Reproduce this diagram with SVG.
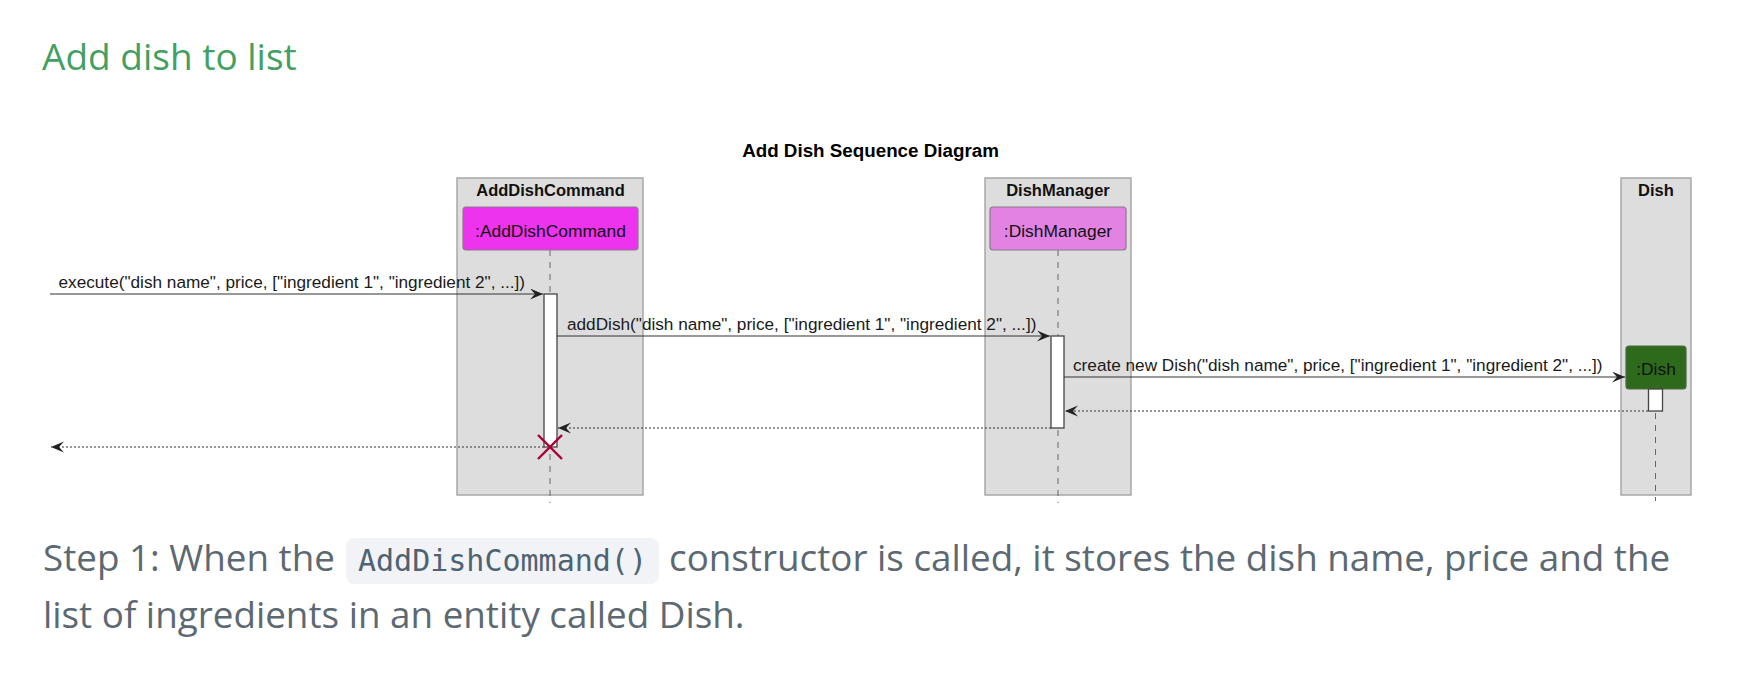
<svg xmlns="http://www.w3.org/2000/svg" width="1748" height="688" viewBox="0 0 1748 688">
<style>
.prose{font-family:"Open Sans","Noto Sans",sans-serif;fill:#5d6972;font-size:36.8px}
.h{font-family:"Open Sans","Noto Sans",sans-serif;fill:#43a062;font-size:37px}
.code{font-family:"DejaVu Sans Mono","Liberation Mono",monospace;fill:#4e6372;font-size:30px}
.d{font-family:"Liberation Sans",Arial,sans-serif}
.title{font-size:18.8px;font-weight:bold;fill:#000}
.box{fill:#dddddd;stroke:#a3a3a3;stroke-width:1.4}
.boxlbl{font-size:16.5px;font-weight:bold;fill:#111;text-anchor:middle}
.plbl{font-size:17.4px;fill:#111;text-anchor:middle}
.life{stroke:#666;stroke-width:1;stroke-dasharray:6,6;fill:none}
.act{fill:#fff;stroke:#444;stroke-width:1.3}
.msg{stroke:#333;stroke-width:1.2;fill:none;marker-end:url(#ah)}
.ret{stroke:#333;stroke-width:1.2;fill:none;stroke-dasharray:2,2;marker-end:url(#ah)}
.mlbl{font-size:17.2px;fill:#1a1a1a}
</style>
<defs>
<marker id="ah" markerUnits="userSpaceOnUse" markerWidth="15" markerHeight="13" refX="13" refY="5.5" orient="auto">
<polygon points="0,0 13,5.5 0,11 5,5.5" fill="#222"/>
</marker>
</defs>
<rect x="0" y="0" width="1748" height="688" fill="#fff"/>
<text class="h" x="42" y="70">Add dish to list</text>

<text class="d title" x="870.5" y="157" text-anchor="middle">Add Dish Sequence Diagram</text>

<g id="AddDishCommand">
<rect class="box" x="457" y="178" width="186" height="317"/>
<text class="d boxlbl" x="550.5" y="196">AddDishCommand</text>
<line class="life" x1="550" y1="250" x2="550" y2="503"/>
<rect x="463" y="207" width="175" height="43" rx="3" fill="#ee33ee" stroke="#8a7a8a" stroke-width="1.2"/>
<text class="d plbl" x="550.5" y="237">:AddDishCommand</text>
<rect class="act" x="544" y="294" width="13" height="153"/>
<g stroke="#a80036" stroke-width="2.4">
<line x1="538" y1="435" x2="562" y2="459"/>
<line x1="562" y1="435" x2="538" y2="459"/>
</g>
</g>

<g id="DishManager">
<rect class="box" x="985" y="178" width="146" height="317"/>
<text class="d boxlbl" x="1058" y="196">DishManager</text>
<line class="life" x1="1058" y1="250" x2="1058" y2="503"/>
<rect x="990" y="207" width="136" height="43" rx="3" fill="#e283e4" stroke="#8a7a8a" stroke-width="1.2"/>
<text class="d plbl" x="1058" y="237">:DishManager</text>
<rect class="act" x="1051" y="336" width="13" height="92"/>
</g>

<g id="Dish">
<rect class="box" x="1621" y="178" width="70" height="317"/>
<text class="d boxlbl" x="1656" y="196">Dish</text>
<line class="life" x1="1655.5" y1="389" x2="1655.5" y2="501"/>
<rect x="1626" y="346" width="60" height="43" rx="3" fill="#2d6a1c" stroke="#4a6a40" stroke-width="1.2"/>
<text class="d plbl" x="1656" y="375">:Dish</text>
<rect class="act" x="1648.5" y="389" width="14" height="22"/>
</g>

<g id="connectors">
<line class="msg" x1="50" y1="294" x2="543" y2="294"/>
<text class="d mlbl" x="58.5" y="287.5">execute("dish name", price, ["ingredient 1", "ingredient 2", ...])</text>
<line class="msg" x1="557" y1="336" x2="1050" y2="336"/>
<text class="d mlbl" x="567" y="329.5">addDish("dish name", price, ["ingredient 1", "ingredient 2", ...])</text>
<line class="msg" x1="1064" y1="377" x2="1625" y2="377"/>
<text class="d mlbl" x="1073" y="370.5">create new Dish("dish name", price, ["ingredient 1", "ingredient 2", ...])</text>
<line class="ret" x1="1648" y1="411" x2="1065" y2="411"/>
<line class="ret" x1="1051" y1="428" x2="558" y2="428"/>
<line class="ret" x1="544" y1="447" x2="51" y2="447"/>
</g>

<text class="prose" x="43" y="571">Step 1: When the</text>
<rect x="346" y="538" width="313" height="46" rx="8" fill="#f1f3f6"/>
<text class="code" x="502.5" y="571" text-anchor="middle">AddDishCommand()</text>
<text class="prose" x="669" y="571">constructor is called, it stores the dish name, price and the</text>
<text class="prose" x="43" y="628">list of ingredients in an entity called Dish.</text>
</svg>
